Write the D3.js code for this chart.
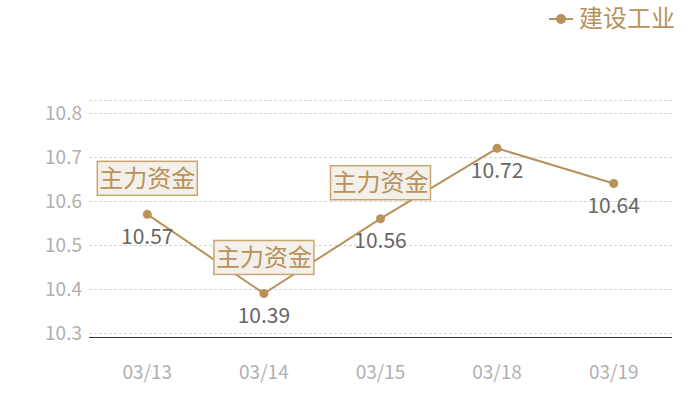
<!DOCTYPE html>
<html>
<head>
<meta charset="utf-8">
<script src="https://cdn.jsdelivr.net/npm/d3@7"></script>
<style>
  body { margin: 0; background: #fff; }
  svg { font-family: "Noto Sans CJK SC", "Noto Sans", sans-serif; }
</style>
</head>
<body>
<div id="chart"></div>
<script>
var dates = ["03/13", "03/14", "03/15", "03/18", "03/19"];
var prices = [10.57, 10.39, 10.56, 10.72, 10.64];
var flags = [true, true, true, false, false]; // "主力资金" tag
var yTicks = [10.3, 10.4, 10.5, 10.6, 10.7, 10.8];
var seriesName = "建设工业";
var flagText = "主力资金";

var W = 700, H = 400;
var gold = "#b8925a";
var m = {left: 89, right: 28, top: 100, bottom: 63};

var svg = d3.select("#chart").append("svg").attr("width", W).attr("height", H);

var x = d3.scaleBand().domain(dates).range([m.left, W - m.right]);
var y = d3.scaleLinear().domain([10.291, 10.83]).range([H - m.bottom, m.top]);

// grid
var grid = svg.append("g");
grid.selectAll("line").data(yTicks.concat([10.83])).enter().append("line")
    .attr("x1", m.left).attr("x2", W - m.right)
    .attr("y1", function(d){ return Math.round(y(d)) + 0.5; })
    .attr("y2", function(d){ return Math.round(y(d)) + 0.5; })
    .attr("stroke", "#d4d4d4").attr("stroke-dasharray", "3,2");

// y labels
svg.append("g").selectAll("text").data(yTicks).enter().append("text")
    .attr("x", 82).attr("y", function(d){ return y(d); })
    .attr("dy", "0.35em").attr("text-anchor", "end")
    .attr("fill", "#b0b0b0").attr("font-size", 19)
    .text(function(d){ return d.toFixed(1); });

// x axis line
svg.append("line").attr("x1", m.left).attr("x2", W - m.right)
    .attr("y1", H - m.bottom + 0.5).attr("y2", H - m.bottom + 0.5)
    .attr("stroke", "#333").attr("stroke-width", 1);

svg.append("g").selectAll("text").data(dates).enter().append("text")
    .attr("x", function(d){ return x(d) + x.bandwidth() / 2; })
    .attr("y", 372).attr("dy", "0.35em").attr("text-anchor", "middle")
    .attr("fill", "#b0b0b0").attr("font-size", 19)
    .text(function(d){ return d; });

var pts = dates.map(function(d, i){
    return {x: x(d) + x.bandwidth() / 2, y: y(prices[i]), v: prices[i], flag: flags[i]};
});

svg.append("path").datum(pts)
    .attr("d", d3.line().x(function(d){ return d.x; }).y(function(d){ return d.y; }))
    .attr("fill", "none").attr("stroke", gold).attr("stroke-width", 2);

// value labels
svg.append("g").selectAll("text").data(pts).enter().append("text")
    .attr("x", function(d){ return d.x; }).attr("y", function(d){ return d.y + 22; })
    .attr("dy", "0.35em").attr("text-anchor", "middle")
    .attr("fill", "#666").attr("font-size", 21)
    .text(function(d){ return d.v.toFixed(2); });

// flag boxes
var fl = svg.append("g").selectAll("g").data(pts.filter(function(d){ return d.flag; }))
    .enter().append("g")
    .attr("transform", function(d){ return "translate(" + d.x + "," + (d.y - 36) + ")"; });
fl.append("rect").attr("x", -50).attr("y", -17).attr("width", 100).attr("height", 34)
    .attr("fill", "#f3efe9").attr("stroke", "#c9a66f").attr("stroke-width", 1.5);
fl.append("text").attr("text-anchor", "middle").attr("dy", "0.35em")
    .attr("fill", gold).attr("font-size", 24).text(flagText);

// points on top
svg.append("g").selectAll("circle").data(pts).enter().append("circle")
    .attr("cx", function(d){ return d.x; }).attr("cy", function(d){ return d.y; })
    .attr("r", 4.5).attr("fill", gold);

// legend
var lg = svg.append("g").attr("transform", "translate(0,19)");
lg.append("line").attr("x1", 549).attr("x2", 573).attr("stroke", gold).attr("stroke-width", 2);
lg.append("circle").attr("cx", 561).attr("r", 5).attr("fill", gold);
lg.append("text").attr("x", 579).attr("dy", "0.35em").attr("fill", gold)
    .attr("font-size", 24).text(seriesName);
</script>
</body>
</html>
